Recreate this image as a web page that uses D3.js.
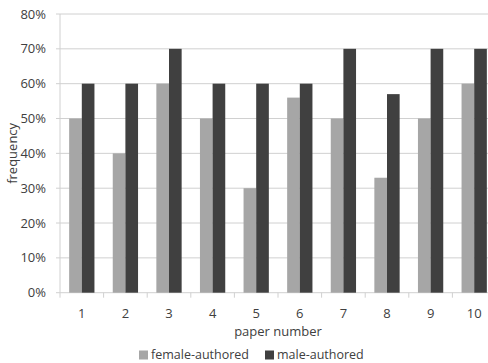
<!DOCTYPE html>
<html><head><meta charset="utf-8">
<script src="https://cdn.jsdelivr.net/npm/d3@7"></script>
<style>body{margin:0;background:#fff}svg{display:block;font-family:"Open Sans",sans-serif}</style>
</head><body>
<svg id="c" width="488" height="363"></svg>
<script>
const categories = ["1","2","3","4","5","6","7","8","9","10"];
const femaleValues = [0.50,0.40,0.60,0.50,0.30,0.56,0.50,0.33,0.50,0.60];
const maleValues = [0.60,0.60,0.70,0.60,0.60,0.60,0.70,0.57,0.70,0.70];
const seriesNames = ["female-authored","male-authored"];
const yTicks = [0,0.1,0.2,0.3,0.4,0.5,0.6,0.7,0.8];

const svg = d3.select("#c");
const mLeft = 60, mRight = 496, mTop = 14, mBottom = 292.7;
const x = d3.scaleBand().domain(categories).range([mLeft, mRight]);
const y = d3.scaleLinear().domain([0, 0.8]).range([mBottom, mTop]);
const colors = ["#a6a6a6", "#404040"];
const gridColor = "#d0d0d0";

// gridlines
svg.append("g").selectAll("line").data(yTicks).join("line")
  .attr("x1", mLeft - 4).attr("x2", mRight)
  .attr("y1", d => y(d)).attr("y2", d => y(d))
  .attr("stroke", gridColor).attr("stroke-width", 1);

// y axis line
svg.append("line").attr("x1", mLeft).attr("x2", mLeft).attr("y1", mTop).attr("y2", mBottom)
  .attr("stroke", gridColor);

// x axis ticks (band boundaries)
const bounds = categories.map(c => x(c)).concat([mRight]);
svg.append("g").selectAll("line").data(bounds).join("line")
  .attr("x1", d => d).attr("x2", d => d).attr("y1", mBottom).attr("y2", mBottom + 5)
  .attr("stroke", gridColor);

// bars
const bw = x.bandwidth() * 0.29;
const series = [femaleValues, maleValues];
series.forEach((vals, si) => {
  svg.append("g").selectAll("rect").data(vals).join("rect")
    .attr("x", (d, i) => x(categories[i]) + x.bandwidth() / 2 - bw + si * bw)
    .attr("y", d => y(d))
    .attr("width", bw)
    .attr("height", d => y(0) - y(d))
    .attr("fill", colors[si]);
});

// y tick labels
svg.append("g").selectAll("text").data(yTicks).join("text")
  .attr("x", 46).attr("y", d => y(d)).attr("dy", "0.35em")
  .attr("text-anchor", "end").attr("font-size", 13).attr("fill", "#404040")
  .text(d => d3.format(".0%")(d));

// x tick labels
svg.append("g").selectAll("text").data(categories).join("text")
  .attr("x", d => x(d) + x.bandwidth() / 2).attr("y", 313).attr("dy", "0.35em")
  .attr("text-anchor", "middle").attr("font-size", 13).attr("fill", "#404040")
  .text(d => d);

// axis titles
svg.append("text").attr("x", (mLeft + mRight) / 2).attr("y", 331).attr("dy", "0.35em")
  .attr("text-anchor", "middle").attr("font-size", 13).attr("fill", "#404040").text("paper number");
svg.append("text").attr("transform", `translate(12,${(mTop + mBottom) / 2}) rotate(-90)`)
  .attr("dy", "0.35em").attr("text-anchor", "middle").attr("font-size", 13).attr("fill", "#404040")
  .text("frequency");

// legend
const legendX = [139, 265];
seriesNames.forEach((n, i) => {
  svg.append("rect").attr("x", legendX[i]).attr("y", 350.5).attr("width", 9).attr("height", 9)
    .attr("fill", colors[i]);
  svg.append("text").attr("x", legendX[i] + 12).attr("y", 355).attr("dy", "0.35em")
    .attr("font-size", 12.5).attr("fill", "#404040").text(n);
});
</script>
</body></html>
